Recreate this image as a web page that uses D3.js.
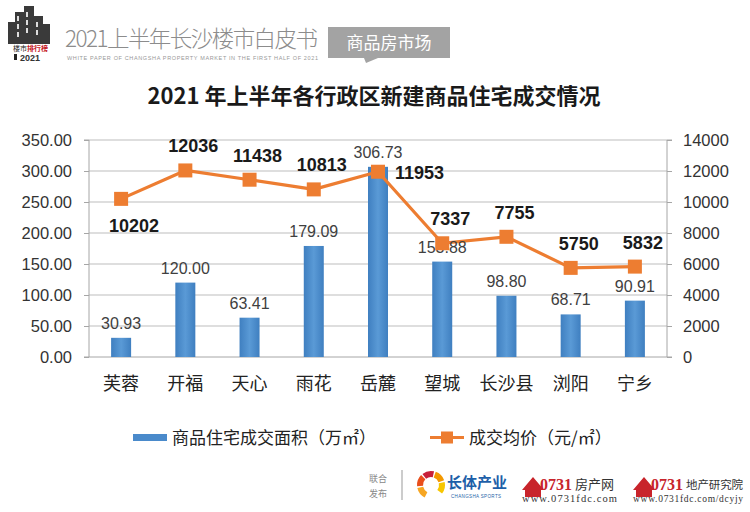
<!DOCTYPE html>
<html>
<head>
<meta charset="utf-8">
<script src="https://cdn.jsdelivr.net/npm/d3@7/dist/d3.min.js"></script>
<style>
  html, body { margin: 0; padding: 0; background: #fff; }
  svg { display: block; }
</style>
</head>
<body>
<svg id="chart" width="750" height="512"></svg>
<script>
// ---- data ----
const categories = ["芙蓉", "开福", "天心", "雨花", "岳麓", "望城", "长沙县", "浏阳", "宁乡"];
const areaValues = [30.93, 120.00, 63.41, 179.09, 306.73, 153.88, 98.80, 68.71, 90.91];
const priceValues = [10202, 12036, 11438, 10813, 11953, 7337, 7755, 5750, 5832];
const priceLabelPlacement = ["below", "above", "above", "above", "right", "above", "above", "above", "above"];
const leftTicks = [0, 50, 100, 150, 200, 250, 300, 350];
const rightTicks = [0, 2000, 4000, 6000, 8000, 10000, 12000, 14000];
const titleText = "2021 年上半年各行政区新建商品住宅成交情况";
const legendArea = "商品住宅成交面积（万㎡）";
const legendPrice = "成交均价（元/㎡）";

const svg = d3.select("#chart");
const M = { left: 89, right: 667, top: 140, bottom: 357 };

const defs = svg.append("defs");
const grad = defs.append("linearGradient").attr("id", "barGrad")
  .attr("x1", "0").attr("x2", "1").attr("y1", "0").attr("y2", "0");
grad.append("stop").attr("offset", "0%").attr("stop-color", "#3f7fc0");
grad.append("stop").attr("offset", "50%").attr("stop-color", "#5a9ad6");
grad.append("stop").attr("offset", "100%").attr("stop-color", "#3f7fc0");

// ---- header ----
const hdr = svg.append("g");
const logo = hdr.append("g");
const bld = [[8, 22, 8, 22], [15, 12, 9, 32], [24, 6, 10, 38], [34, 16, 9, 28], [43, 24, 7, 20]];
bld.forEach(b => {
  logo.append("rect").attr("x", b[0]).attr("y", b[1]).attr("width", b[2]).attr("height", b[3]).attr("fill", "#3a3a3a");
});
[[17, 16], [17, 24], [17, 32], [26, 12], [26, 20], [26, 28], [36, 22], [36, 30]].forEach(p => {
  logo.append("rect").attr("x", p[0]).attr("y", p[1]).attr("width", 2).attr("height", 5).attr("fill", "#ddd");
});
logo.append("text").attr("x", 13).attr("y", 51).attr("font-size", 7)
  .attr("font-family", "Noto Sans CJK SC").attr("fill", "#222").text("楼市");
logo.append("text").attr("x", 27).attr("y", 51).attr("font-size", 7).attr("font-weight", "bold")
  .attr("font-family", "Noto Sans CJK SC").attr("fill", "#c4161c").text("排行榜");
logo.append("rect").attr("x", 14).attr("y", 54).attr("width", 3).attr("height", 6).attr("fill", "#222");
logo.append("text").attr("x", 20).attr("y", 61).attr("font-size", 9).attr("font-weight", "bold")
  .attr("font-family", "Liberation Sans").attr("fill", "#333").text("2021");

hdr.append("text").attr("x", 65).attr("y", 47)
  .attr("font-family", "Noto Sans CJK SC").attr("font-weight", 300).attr("font-size", 22.5)
  .attr("fill", "#8c8c8c").attr("textLength", 253).text("2021上半年长沙楼市白皮书");
hdr.append("text").attr("x", 67).attr("y", 60)
  .attr("font-family", "Liberation Sans").attr("font-size", 5.5)
  .attr("fill", "#999").attr("textLength", 251)
  .text("WHITE PAPER OF CHANGSHA PROPERTY MARKET IN THE FIRST HALF OF 2021");
hdr.append("rect").attr("x", 328).attr("y", 27).attr("width", 122).attr("height", 31).attr("fill", "#a3a3a3");
hdr.append("path").attr("d", "M364,58 L378,58 L366,63 Z").attr("fill", "#a3a3a3");
hdr.append("text").attr("x", 389).attr("y", 49).attr("text-anchor", "middle")
  .attr("font-family", "Noto Sans CJK SC").attr("font-size", 17).attr("fill", "#fff").text("商品房市场");

// ---- title ----
svg.append("text").attr("x", 374).attr("y", 104).attr("text-anchor", "middle")
  .attr("font-family", "Noto Sans CJK SC").attr("font-weight", "bold").attr("font-size", 22)
  .attr("fill", "#1a1a1a").text(titleText);

// ---- scales ----
const x = d3.scaleBand().domain(categories).range([M.left, M.right]).padding(0);
const yL = d3.scaleLinear().domain([0, 350]).range([M.bottom, M.top]);
const yR = d3.scaleLinear().domain([0, 14000]).range([M.bottom, M.top]);

svg.append("g").selectAll("line").data(leftTicks.filter(d => d > 0)).join("line")
  .attr("x1", M.left).attr("x2", M.right)
  .attr("y1", d => yL(d)).attr("y2", d => yL(d))
  .attr("stroke", "#bdbdbd").attr("stroke-width", 1);

const axL = d3.axisLeft(yL).tickValues(leftTicks).tickFormat(d3.format(".2f")).tickSize(5).tickPadding(12);
const gL = svg.append("g").attr("transform", `translate(${M.left},0)`).call(axL);
gL.select(".domain").attr("stroke", "#a6a6a6").attr("d", `M-5,${M.top}H0V${M.bottom}H-5`);
gL.selectAll(".tick line").attr("stroke", "#a6a6a6");
gL.selectAll("text").attr("font-family", "Liberation Sans").attr("font-size", 16.5).attr("fill", "#333");

const axR = d3.axisRight(yR).tickValues(rightTicks).tickFormat(d3.format("d")).tickSize(5).tickPadding(11);
const gR = svg.append("g").attr("transform", `translate(${M.right},0)`).call(axR);
gR.select(".domain").attr("stroke", "#a6a6a6").attr("d", `M5,${M.top}H0V${M.bottom}H5`);
gR.selectAll(".tick line").attr("stroke", "#a6a6a6");
gR.selectAll("text").attr("font-family", "Liberation Sans").attr("font-size", 16.5).attr("fill", "#333");

const axB = d3.axisBottom(x).tickSize(0).tickPadding(20);
const gB = svg.append("g").attr("transform", `translate(0,${M.bottom})`).call(axB);
gB.select(".domain").attr("stroke", "#a6a6a6").attr("d", `M${M.left},0H${M.right}`);
gB.selectAll("text").attr("font-family", "Noto Sans CJK SC").attr("font-size", 18).attr("fill", "#222");

const bw = 20;
svg.append("g").selectAll("rect").data(categories).join("rect")
  .attr("x", d => x(d) + x.bandwidth() / 2 - bw / 2)
  .attr("width", bw)
  .attr("y", (d, i) => yL(areaValues[i]))
  .attr("height", (d, i) => yL(0) - yL(areaValues[i]))
  .attr("fill", "url(#barGrad)");

const cx = d => x(d) + x.bandwidth() / 2;
const line = d3.line().x((d, i) => cx(categories[i])).y(d => yR(d));
svg.append("path").datum(priceValues).attr("d", line)
  .attr("fill", "none").attr("stroke", "#ed7d31").attr("stroke-width", 3.2).attr("stroke-linejoin", "round");

svg.append("g").selectAll("text").data(categories).join("text")
  .attr("x", d => cx(d))
  .attr("y", (d, i) => yL(areaValues[i]) - 9)
  .attr("text-anchor", "middle")
  .attr("font-family", "Liberation Sans").attr("font-size", 16).attr("fill", "#404040")
  .text((d, i) => d3.format(".2f")(areaValues[i]));

svg.append("g").selectAll("rect").data(priceValues).join("rect")
  .attr("x", (d, i) => cx(categories[i]) - 7)
  .attr("y", d => yR(d) - 7)
  .attr("width", 14).attr("height", 14)
  .attr("fill", "#ed7d31");

svg.append("g").selectAll("text").data(priceValues).join("text")
  .attr("x", (d, i) => {
    const p = priceLabelPlacement[i];
    if (p === "right") return cx(categories[i]) + 17;
    if (p === "below") return cx(categories[i]) + 13;
    return cx(categories[i]) + 8;
  })
  .attr("y", (d, i) => {
    const p = priceLabelPlacement[i];
    if (p === "right") return yR(d) + 7;
    if (p === "below") return yR(d) + 33;
    return yR(d) - 18;
  })
  .attr("text-anchor", (d, i) => priceLabelPlacement[i] === "right" ? "start" : "middle")
  .attr("font-family", "Liberation Sans").attr("font-weight", "bold").attr("font-size", 18).attr("fill", "#1a1a1a")
  .text(d => d);

// legend
const lg = svg.append("g");
lg.append("rect").attr("x", 133).attr("y", 434).attr("width", 34).attr("height", 7).attr("fill", "#4a8acb");
lg.append("text").attr("x", 172).attr("y", 444).attr("font-family", "Noto Sans CJK SC")
  .attr("font-size", 17).attr("fill", "#222").text(legendArea);
lg.append("line").attr("x1", 430).attr("x2", 464).attr("y1", 437.5).attr("y2", 437.5)
  .attr("stroke", "#ed7d31").attr("stroke-width", 3.2);
lg.append("rect").attr("x", 441).attr("y", 431.5).attr("width", 12).attr("height", 12).attr("fill", "#ed7d31");
lg.append("text").attr("x", 469).attr("y", 444).attr("font-family", "Noto Sans CJK SC")
  .attr("font-size", 17).attr("fill", "#222").text(legendPrice);

// footer
const ft = svg.append("g");
ft.append("text").attr("x", 378).attr("y", 482).attr("text-anchor", "middle").attr("font-family", "Noto Sans CJK SC")
  .attr("font-size", 9).attr("fill", "#888").text("联合");
ft.append("text").attr("x", 378).attr("y", 497).attr("text-anchor", "middle").attr("font-family", "Noto Sans CJK SC")
  .attr("font-size", 9).attr("fill", "#888").text("发布");
ft.append("line").attr("x1", 402).attr("x2", 402).attr("y1", 470).attr("y2", 500).attr("stroke", "#999");
const arc = d3.arc().innerRadius(8).outerRadius(14);
const cols = ["#f6a623", "#e94e1b", "#c81f3a", "#f39800", "#f7c600"];
cols.forEach((c, i) => {
  ft.append("path").attr("transform", "translate(431,485)")
    .attr("d", arc({ startAngle: Math.PI * (1.15 + i * 0.32), endAngle: Math.PI * (1.15 + i * 0.32 + 0.28) }))
    .attr("fill", c);
});
ft.append("text").attr("x", 447).attr("y", 488).attr("font-family", "Noto Sans CJK SC").attr("font-weight", "bold")
  .attr("font-size", 15).attr("fill", "#1e5fa8").text("长体产业");
ft.append("text").attr("x", 451).attr("y", 498).attr("font-family", "Liberation Sans")
  .attr("font-size", 4.5).attr("fill", "#1e5fa8").attr("textLength", 50).text("CHANGSHA SPORTS");
ft.append("path").attr("d", "M522,490 L533,477 L544,490 L541,490 L541,497 L525,497 L525,490 Z").attr("fill", "#c8242b");
ft.append("text").attr("x", 540).attr("y", 490).attr("font-family", "Liberation Serif").attr("font-weight", "bold")
  .attr("font-size", 16).attr("fill", "#c8242b").text("0731");
ft.append("text").attr("x", 575).attr("y", 489).attr("font-family", "Noto Sans CJK SC")
  .attr("font-size", 13).attr("fill", "#333").text("房产网");
ft.append("text").attr("x", 522).attr("y", 502).attr("font-family", "Liberation Serif")
  .attr("font-size", 10.5).attr("fill", "#333").attr("textLength", 95).text("www.0731fdc.com");
ft.append("path").attr("d", "M633,490 L644,477 L655,490 L652,490 L652,497 L636,497 L636,490 Z").attr("fill", "#c8242b");
ft.append("text").attr("x", 651).attr("y", 490).attr("font-family", "Liberation Serif").attr("font-weight", "bold")
  .attr("font-size", 16).attr("fill", "#c8242b").text("0731");
ft.append("text").attr("x", 686).attr("y", 489).attr("font-family", "Noto Sans CJK SC")
  .attr("font-size", 11.5).attr("fill", "#333").attr("textLength", 57).text("地产研究院");
ft.append("text").attr("x", 633).attr("y", 502).attr("font-family", "Liberation Serif")
  .attr("font-size", 9.5).attr("fill", "#333").attr("textLength", 110).text("www.0731fdc.com/dcyjy");
</script>
</body>
</html>
